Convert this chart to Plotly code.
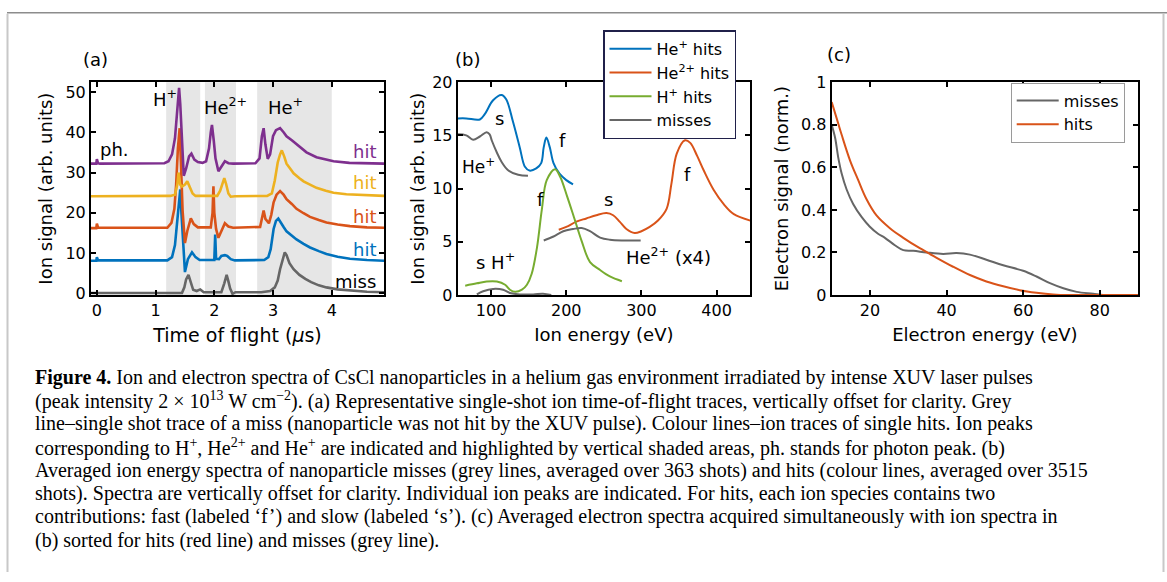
import plotly.graph_objects as go

# ---------------- Panel (a): single-shot TOF traces ----------------
miss_t = [-0.1, 1.45, 1.49, 1.52, 1.56, 1.60, 1.64, 1.70, 1.76, 1.82, 2.12, 2.17, 2.21, 2.24, 2.27, 2.31, 2.36,
          2.80, 2.95, 3.03, 3.08, 3.12, 3.16, 3.20, 3.23, 3.28, 3.35, 3.45, 3.55, 3.65, 3.78, 3.91, 4.1, 4.31, 4.6, 4.9]
miss_v = [0.1, 0.15, 1.5, 3.5, 4.6, 2.5, 0.9, 0.6, 1.0, 0.3, 0.3, 2.5, 4.6, 3.0, 1.2, -0.1, 0.3,
          0.3, 0.6, 1.5, 3.2, 6.0, 8.5, 10.2, 9.5, 7.5, 6.0, 4.6, 3.6, 2.8, 2.0, 1.5, 1.0, 0.7, 0.4, 0.3]

blue_t = [-0.1, -0.01, 0.0, 0.02, 1.2, 1.28, 1.33, 1.37, 1.40, 1.42, 1.44, 1.46, 1.50, 1.55, 1.62, 1.68, 1.75,
          2.00, 2.015, 2.03, 2.08, 2.12, 2.18, 2.22, 2.28, 2.35, 2.85, 2.92, 2.96, 3.01, 3.05, 3.09, 3.13, 3.18,
          3.23, 3.32, 3.40, 3.52, 3.63, 3.78, 3.91, 4.1, 4.31, 4.6, 4.9]
blue_v = [8.1, 8.1, 9.0, 8.2, 8.2, 9.0, 12.0, 18.0, 24.0, 25.8, 20.0, 15.0, 5.3, 8.5, 10.2, 9.0, 8.3,
          8.3, 14.6, 8.6, 8.5, 9.3, 9.5, 9.3, 8.5, 8.2, 8.3, 9.0, 11.0, 16.0, 18.0, 18.6, 17.8, 16.5,
          15.4, 14.4, 13.4, 12.3, 11.4, 10.5, 9.8, 9.1, 8.6, 8.3, 8.1]

red_t = [-0.1, -0.01, 0.0, 0.02, 1.2, 1.27, 1.32, 1.35, 1.38, 1.41, 1.43, 1.46, 1.50, 1.54, 1.60, 1.65, 1.72,
         1.94, 1.97, 1.985, 2.00, 2.03, 2.07, 2.12, 2.18, 2.24, 2.32, 2.78, 2.82, 2.84, 2.87, 2.93, 2.97, 3.01,
         3.06, 3.12, 3.18, 3.23, 3.32, 3.40, 3.52, 3.63, 3.78, 3.91, 4.1, 4.31, 4.6, 4.9]
red_v = [16.2, 16.2, 17.3, 16.3, 16.3, 17.5, 21.0, 27.0, 36.0, 41.0, 33.0, 20.5, 12.5, 15.5, 18.6, 17.2, 16.4,
         16.4, 20.0, 26.6, 20.0, 16.0, 13.8, 15.5, 17.4, 16.6, 16.3, 16.5, 19.0, 20.6, 18.5, 17.4, 19.5, 22.6,
         24.5, 25.4, 24.5, 23.4, 22.2, 21.0, 19.9, 19.0, 18.2, 17.6, 17.1, 16.7, 16.4, 16.3]

yel_t = [-0.1, 1.25, 1.33, 1.37, 1.39, 1.42, 1.45, 1.50, 1.54, 1.58, 1.63, 1.68, 2.05, 2.10, 2.14, 2.17, 2.20,
         2.24, 2.28, 2.35, 2.90, 2.98, 3.03, 3.08, 3.12, 3.15, 3.19, 3.23, 3.30, 3.35, 3.45, 3.52, 3.63, 3.74,
         3.90, 4.03, 4.25, 4.48, 4.9]
yel_v = [24.1, 24.2, 24.5, 27.0, 30.0, 27.0, 26.5, 27.0, 27.8, 26.3, 24.8, 24.2, 24.2, 25.5, 27.5, 28.6, 27.2,
         24.8, 24.0, 24.1, 24.2, 24.8, 28.0, 32.5, 34.5, 35.5, 34.0, 32.2, 30.8, 29.8, 28.6, 27.8, 27.0, 26.2,
         25.5, 25.0, 24.6, 24.4, 24.2]

pur_t = [-0.1, -0.01, 0.0, 0.02, 0.05, 1.15, 1.22, 1.28, 1.33, 1.37, 1.40, 1.42, 1.45, 1.48, 1.52, 1.57, 1.61,
         1.66, 1.72, 1.80, 1.86, 1.91, 1.94, 1.96, 1.99, 2.02, 2.07, 2.12, 2.18, 2.24, 2.32, 2.70, 2.77, 2.81,
         2.84, 2.87, 2.91, 2.95, 3.00, 3.05, 3.12, 3.18, 3.23, 3.32, 3.40, 3.57, 3.74, 3.90, 4.03, 4.3, 4.6, 4.9]
pur_v = [32.2, 32.2, 33.3, 32.3, 32.2, 32.3, 32.8, 34.5, 38.5, 45.0, 51.0, 47.0, 37.0, 29.2, 31.0, 34.0, 34.7,
         33.2, 32.6, 32.4, 32.8, 36.0, 40.0, 41.8, 38.0, 33.5, 30.3, 31.5, 32.8, 32.3, 32.2, 32.3, 33.5, 39.0,
         41.0, 37.0, 33.4, 34.5, 39.0, 40.5, 41.0, 40.0, 39.0, 38.0, 37.0, 35.0, 33.8, 33.2, 32.8, 32.4, 32.3, 32.2]

shade_x0 = [1.18, 1.84, 2.73]
shade_x1 = [1.76, 2.37, 4.00]

# ---------------- Panel (b): averaged ion energy spectra ----------------
heP_hit_E = [55.7, 67, 85, 91.5, 102.6, 113.7, 120, 129, 138, 145, 151, 160, 166.6, 170, 173.5, 178, 183, 191, 200, 209]
heP_hit_v = [16.6, 16.6, 16.5, 17.0, 18.3, 18.8, 18.4, 16.3, 13.9, 12.05, 11.7, 11.9, 12.4, 13.9, 14.8, 13.9, 12.4, 11.4, 10.8, 10.4]

heP_miss_E = [55.7, 67, 76, 85, 94, 98, 101, 107.6, 114, 123, 136, 149]
heP_miss_v = [15.1, 15.0, 14.6, 14.9, 15.3, 15.1, 14.5, 13.4, 12.5, 11.7, 11.3, 11.2]

hP_hit_E = [65.5, 81, 94, 107.6, 118.6, 125, 132, 141, 147.6, 154, 161, 167.6, 174, 185, 192, 201, 209.4, 220.5, 231.6, 245, 258, 274]
hP_hit_v = [0.88, 1.1, 1.27, 1.27, 0.97, 0.5, 0.3, 0.5, 0.97, 2.0, 4.46, 8.1, 10.8, 11.83, 11.1, 9.3, 7.5, 5.07, 3.1, 2.35, 1.75, 1.3]

hP_miss_E = [81, 89.4, 102.6, 116, 125, 138, 156, 169, 180]
hP_miss_v = [0.06, 0.36, 0.58, 0.5, 0.2, 0.06, 0.06, 0.12, 0.0]

he2_hit_E = [190, 200, 213.4, 226.7, 240, 253.5, 262.4, 271, 280, 291, 300, 311, 322, 333.5, 340, 347, 358, 365, 374, 383, 396, 410, 423, 445]
he2_hit_v = [6.13, 6.4, 6.9, 7.2, 7.5, 7.7, 7.5, 6.9, 6.2, 5.83, 6.0, 6.4, 7.0, 8.1, 10.5, 13.3, 14.55, 14.3, 13.1, 11.7, 9.9, 8.5, 7.6, 7.0]

he2_miss_E = [170, 183, 196, 209, 220.5, 231.6, 245, 258, 276, 299]
he2_miss_v = [5.13, 5.5, 6.0, 6.2, 6.3, 6.0, 5.4, 5.2, 5.13, 5.13]

# ---------------- Panel (c): electron spectra ----------------
el_miss_E = [10, 10.9, 11.7, 12.6, 13.9, 15.6, 17.8, 19.9, 22.1, 23.9, 26.5, 28.7, 31.3, 34.8, 39.1, 42.6, 46.1,
             50.4, 54.8, 60, 63.5, 67, 70.5, 74, 78.3, 80.9, 85, 90]
el_miss_v = [0.80, 0.738, 0.647, 0.571, 0.496, 0.428, 0.367, 0.322, 0.288, 0.269, 0.234, 0.211, 0.208, 0.200, 0.193,
             0.197, 0.190, 0.166, 0.140, 0.114, 0.087, 0.056, 0.032, 0.015, 0.006, 0.0, 0.0, 0.0]
el_hit_E = [10, 11.3, 12.6, 14.8, 16.9, 19.1, 21.7, 25.2, 28.7, 33, 37.4, 41.7, 46.1, 50.4, 54.8, 59.1, 63.5,
            67.8, 72.1, 80, 90]
el_hit_v = [0.907, 0.83, 0.753, 0.632, 0.541, 0.45, 0.374, 0.314, 0.269, 0.220, 0.175, 0.133, 0.094, 0.064, 0.041,
            0.023, 0.011, 0.003, 0.0, 0.0, 0.0]

caption_lines = [
    "<b>Figure 4.</b> Ion and electron spectra of CsCl nanoparticles in a helium gas environment irradiated by intense XUV laser pulses",
    "(peak intensity 2 × 10<sup>13</sup> W cm<sup>−2</sup>). (a) Representative single-shot ion time-of-flight traces, vertically offset for clarity. Grey",
    "line–single shot trace of a miss (nanoparticle was not hit by the XUV pulse). Colour lines–ion traces of single hits. Ion peaks",
    "corresponding to H<sup>+</sup>, He<sup>2+</sup> and He<sup>+</sup> are indicated and highlighted by vertical shaded areas, ph. stands for photon peak. (b)",
    "Averaged ion energy spectra of nanoparticle misses (grey lines, averaged over 363 shots) and hits (colour lines, averaged over 3515",
    "shots). Spectra are vertically offset for clarity. Individual ion peaks are indicated. For hits, each ion species contains two",
    "contributions: fast (labeled ‘f’) and slow (labeled ‘s’). (c) Averaged electron spectra acquired simultaneously with ion spectra in",
    "(b) sorted for hits (red line) and misses (grey line).",
]

BLUE, ORANGE, YELLOW, PURPLE, GREEN, GREY = "#0072BD", "#D95319", "#EDB120", "#7E2F8E", "#77AC30", "#666666"
SANS = "DejaVu Sans"
W, H = 1167, 582


def px(x):
    return x / W


def py(y):
    return 1 - y / H


fig = go.Figure()

# panel (a)
for t, v, c in [(miss_t, miss_v, GREY), (blue_t, blue_v, BLUE), (red_t, red_v, ORANGE),
                (yel_t, yel_v, YELLOW), (pur_t, pur_v, PURPLE)]:
    fig.add_trace(go.Scatter(x=t, y=v, mode="lines", line=dict(color=c, width=2.6),
                             xaxis="x", yaxis="y", showlegend=False))

# panel (b)
fig.add_trace(go.Scatter(x=heP_hit_E, y=heP_hit_v, mode="lines", name="He<sup>+</sup> hits",
                         line=dict(color=BLUE, width=2, shape="spline"), xaxis="x2", yaxis="y2", legend="legend"))
fig.add_trace(go.Scatter(x=he2_hit_E, y=he2_hit_v, mode="lines", name="He<sup>2+</sup> hits",
                         line=dict(color=ORANGE, width=2, shape="spline"), xaxis="x2", yaxis="y2", legend="legend"))
fig.add_trace(go.Scatter(x=hP_hit_E, y=hP_hit_v, mode="lines", name="H<sup>+</sup> hits",
                         line=dict(color=GREEN, width=2, shape="spline"), xaxis="x2", yaxis="y2", legend="legend"))
fig.add_trace(go.Scatter(x=heP_miss_E, y=heP_miss_v, mode="lines", name="misses",
                         line=dict(color=GREY, width=2, shape="spline"), xaxis="x2", yaxis="y2", legend="legend"))
fig.add_trace(go.Scatter(x=he2_miss_E, y=he2_miss_v, mode="lines", showlegend=False,
                         line=dict(color=GREY, width=2, shape="spline"), xaxis="x2", yaxis="y2"))
fig.add_trace(go.Scatter(x=hP_miss_E, y=hP_miss_v, mode="lines", showlegend=False,
                         line=dict(color=GREY, width=2, shape="spline"), xaxis="x2", yaxis="y2"))

# panel (c)
fig.add_trace(go.Scatter(x=el_miss_E, y=el_miss_v, mode="lines", name="misses",
                         line=dict(color=GREY, width=2, shape="spline"), xaxis="x3", yaxis="y3", legend="legend2"))
fig.add_trace(go.Scatter(x=el_hit_E, y=el_hit_v, mode="lines", name="hits",
                         line=dict(color=ORANGE, width=2, shape="spline"), xaxis="x3", yaxis="y3", legend="legend2"))

tickfont = dict(family=SANS, size=16, color="black")
titlefont = dict(family=SANS, size=18, color="black")


def ax(**kw):
    d = dict(showline=True, linecolor="black", linewidth=2, mirror="ticks", ticks="inside", ticklen=5,
             tickwidth=2, tickcolor="black", showgrid=False, zeroline=False, tickfont=tickfont)
    d.update(kw)
    return d


ydom = [py(295.7), py(75.7)]
fig.update_layout(
    width=W, height=H, margin=dict(l=0, r=0, t=0, b=0),
    paper_bgcolor="white", plot_bgcolor="white",
    xaxis=ax(domain=[px(91), px(384)], range=[-0.1, 4.89], tickvals=[0, 1, 2, 3, 4],
             title=dict(text="Time of flight (<i>μ</i>s)", font=dict(family=SANS, size=19, color="black"),
                        standoff=9), anchor="y"),
    yaxis=ax(domain=ydom, range=[-0.4, 52.4], tickvals=[0, 10, 20, 30, 40, 50],
             title=dict(text="Ion signal (arb. units)", font=titlefont, standoff=8), anchor="x"),
    xaxis2=ax(domain=[px(457.7), px(750)], range=[55.5, 444.5], tickvals=[100, 200, 300, 400],
              title=dict(text="Ion energy (eV)", font=titlefont, standoff=9), anchor="y2"),
    yaxis2=ax(domain=ydom, range=[0, 20], tickvals=[0, 5, 10, 15, 20],
              title=dict(text="Ion signal (arb. units)", font=titlefont, standoff=3), anchor="x2"),
    xaxis3=ax(domain=[px(831.7), px(1138)], range=[10, 90], tickvals=[20, 40, 60, 80],
              title=dict(text="Electron energy (eV)", font=titlefont, standoff=9), anchor="y3"),
    yaxis3=ax(domain=ydom, range=[0, 1], tickvals=[0, 0.2, 0.4, 0.6, 0.8, 1],
              ticktext=["0", "0.2", "0.4", "0.6", "0.8", "1"],
              title=dict(text="Electron signal (norm.)", font=titlefont, standoff=8), anchor="x3"),
    legend=dict(x=px(603), y=py(22), xanchor="left", yanchor="top", bgcolor="white",
                bordercolor="#20204a", borderwidth=1.5, font=dict(family=SANS, size=16, color="black"),
                tracegroupgap=0, itemwidth=42),
    legend2=dict(x=px(1010.7), y=py(76), xanchor="left", yanchor="top", bgcolor="white",
                 bordercolor="#9a9a9a", borderwidth=1, font=dict(family=SANS, size=16, color="black"),
                 itemwidth=42),
)

# shaded areas in (a)
for a, b in zip(shade_x0, shade_x1):
    fig.add_shape(type="rect", xref="x", yref="y domain", x0=a, x1=b, y0=0, y1=1,
                  fillcolor="#e6e6e6", line=dict(width=0), layer="below")


def note(x, y, text, xref, yref, color="black", xanchor="center", size=18):
    fig.add_annotation(x=x, y=y, xref=xref, yref=yref, text=text, showarrow=False, xanchor=xanchor,
                       yanchor="middle", font=dict(family=SANS, size=size, color=color))


# panel letters
note(px(95), py(52), "(a)", "paper", "paper")
note(px(467.7), py(52), "(b)", "paper", "paper")
note(px(839), py(47), "(c)", "paper", "paper")

# panel (a) labels
note(0.02, 35.8, "ph.", "x", "y", xanchor="left")
note(1.16, 48.4, "H<sup>+</sup>", "x", "y")
note(2.19, 46.6, "He<sup>2+</sup>", "x", "y")
note(3.22, 46.4, "He<sup>+</sup>", "x", "y")
note(4.79, 35.2, "hit", "x", "y", color=PURPLE, xanchor="right")
note(4.79, 27.5, "hit", "x", "y", color=YELLOW, xanchor="right")
note(4.79, 19.2, "hit", "x", "y", color=ORANGE, xanchor="right")
note(4.79, 11.0, "hit", "x", "y", color=BLUE, xanchor="right")
note(4.79, 2.9, "miss", "x", "y", xanchor="right")

# panel (b) labels
note(111, 16.6, "s", "x2", "y2")
note(195, 14.5, "f", "x2", "y2")
note(83, 12.1, "He<sup>+</sup>", "x2", "y2", size=17)
note(166, 9.0, "f", "x2", "y2")
note(256, 9.0, "s", "x2", "y2")
note(361, 11.3, "f", "x2", "y2")
note(336, 3.7, "He<sup>2+</sup> (x4)", "x2", "y2")
note(106, 3.2, "s H<sup>+</sup>", "x2", "y2")

# caption
for i, line in enumerate(caption_lines):
    fig.add_annotation(x=px(33), y=py(381 + 24 * i), xref="paper", yref="paper", text=line, showarrow=False,
                       xanchor="left", yanchor="middle", align="left",
                       font=dict(family="Liberation Serif", size=20, color="black"))

# figure frame
fig.add_shape(type="line", xref="paper", yref="paper", x0=px(7), x1=1, y0=py(4), y1=py(4),
              line=dict(color="#8c8c8c", width=1.5))
fig.add_shape(type="line", xref="paper", yref="paper", x0=px(7.5), x1=px(7.5), y0=py(5), y1=0,
              line=dict(color="#c8c8c8", width=2))
fig.add_shape(type="line", xref="paper", yref="paper", x0=px(1163.5), x1=px(1163.5), y0=py(5), y1=0,
              line=dict(color="#c8c8c8", width=2))

fig.write_html("out.html", config={"displayModeBar": False})
